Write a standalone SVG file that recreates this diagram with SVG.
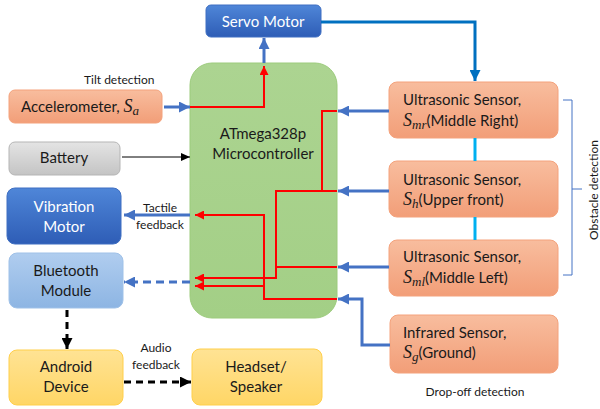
<svg xmlns="http://www.w3.org/2000/svg" width="600" height="409" viewBox="0 0 600 409">
<defs>
<linearGradient id="gOrange" x1="0" y1="0" x2="0" y2="1"><stop offset="0" stop-color="#f8bd9e"/><stop offset="1" stop-color="#f29e78"/></linearGradient>
<linearGradient id="gBlue" x1="0" y1="0" x2="0" y2="1"><stop offset="0" stop-color="#4f86d8"/><stop offset="1" stop-color="#2e5db6"/></linearGradient>
<linearGradient id="gGray" x1="0" y1="0" x2="0" y2="1"><stop offset="0" stop-color="#e4e4e4"/><stop offset="1" stop-color="#c4c4c4"/></linearGradient>
<linearGradient id="gLBlue" x1="0" y1="0" x2="0" y2="1"><stop offset="0" stop-color="#b0cdef"/><stop offset="1" stop-color="#8db5e3"/></linearGradient>
<linearGradient id="gYellow" x1="0" y1="0" x2="0" y2="1"><stop offset="0" stop-color="#ffe394"/><stop offset="1" stop-color="#ffd666"/></linearGradient>
<linearGradient id="gGreen" x1="0" y1="0" x2="0" y2="1"><stop offset="0" stop-color="#acd491"/><stop offset="1" stop-color="#a3cf86"/></linearGradient>
<marker id="aBlue" markerUnits="userSpaceOnUse" markerWidth="11" markerHeight="11" refX="11" refY="5.5" orient="auto"><path d="M0,0 L11,5.5 L0,11 z" fill="#4472c4"/></marker>
<marker id="aDBlue" markerUnits="userSpaceOnUse" markerWidth="11" markerHeight="11" refX="11" refY="5.5" orient="auto"><path d="M0,0 L11,5.5 L0,11 z" fill="#0070c0"/></marker>
<marker id="aRed" markerUnits="userSpaceOnUse" markerWidth="9" markerHeight="9" refX="9" refY="4.5" orient="auto"><path d="M0,0 L9,4.5 L0,9 z" fill="#ff0000"/></marker>
<marker id="aBlack" markerUnits="userSpaceOnUse" markerWidth="9" markerHeight="8" refX="9" refY="4" orient="auto"><path d="M0,0 L9,4 L0,8 z" fill="#000"/></marker>
<marker id="aBlackB" markerUnits="userSpaceOnUse" markerWidth="11" markerHeight="11" refX="11" refY="5.5" orient="auto"><path d="M0,0 L11,5.5 L0,11 z" fill="#000"/></marker>
</defs>
<style>
text{font-family:Lato,"Open Sans","Liberation Sans",sans-serif;fill:#1a1a1a}
.lbl{font-size:15px}
.sm{font-size:12px}
.w{fill:#fff}
.c{text-anchor:middle}
.m{font-family:"Liberation Serif",serif;font-style:italic;font-size:18px}
.sub{font-size:13px}
.orange{fill:url(#gOrange);stroke:#f4a27c;stroke-width:1}
.blue{fill:url(#gBlue);stroke:#3f6fc2;stroke-width:1}
.gray{fill:url(#gGray);stroke:#b5b5b5;stroke-width:1}
.lblue{fill:url(#gLBlue);stroke:#9fc1e8;stroke-width:1}
.yellow{fill:url(#gYellow);stroke:#ffcf4a;stroke-width:1}
.green{fill:url(#gGreen);stroke:#9ccb7c;stroke-width:1}
.bl{fill:none;stroke:#4472c4;stroke-width:3}
.rd{fill:none;stroke:#ff0000;stroke-width:2}
</style>

<g id="microcontroller">
<rect class="green" x="190" y="63" width="147" height="255" rx="22"/>
<text class="lbl c" x="263" y="139">ATmega328p</text>
<text class="lbl c" x="263" y="159">Microcontroller</text>
</g>

<g id="servo">
<rect class="blue" x="206" y="5" width="115" height="32" rx="5"/>
<text class="lbl c w" x="263" y="27">Servo Motor</text>
</g>

<g id="accelerometer">
<rect class="orange" x="9" y="90" width="153" height="33" rx="6"/>
<text class="lbl" x="21" y="112">Accelerometer, <tspan class="m">S</tspan><tspan class="m sub" dy="3">a</tspan></text>
<text class="sm" x="84" y="84">Tilt detection</text>
</g>

<g id="battery">
<rect class="gray" x="9" y="142" width="111" height="33" rx="6"/>
<text class="lbl c" x="64" y="163">Battery</text>
</g>

<g id="vibration">
<rect class="blue" x="7" y="188" width="114" height="56" rx="8"/>
<text class="lbl c w" x="64" y="212">Vibration</text>
<text class="lbl c w" x="64" y="232">Motor</text>
</g>

<g id="bluetooth">
<rect class="lblue" x="9" y="253" width="114" height="55" rx="8"/>
<text class="lbl c" x="66" y="276">Bluetooth</text>
<text class="lbl c" x="66" y="296">Module</text>
</g>

<g id="android">
<rect class="yellow" x="9" y="350" width="114" height="55" rx="8"/>
<text class="lbl c" x="66" y="372">Android</text>
<text class="lbl c" x="66" y="392">Device</text>
</g>

<g id="headset">
<rect class="yellow" x="192" y="349" width="130" height="56" rx="8"/>
<text class="lbl c" x="256" y="372">Headset/</text>
<text class="lbl c" x="256" y="392">Speaker</text>
</g>

<g id="us-middle-right">
<rect class="orange" x="389" y="82" width="169" height="56" rx="8"/>
<text class="lbl" x="403" y="105">Ultrasonic Sensor,</text>
<text class="lbl" x="403" y="126"><tspan class="m">S</tspan><tspan class="m sub" dy="3">mr</tspan><tspan dy="-3">(Middle Right)</tspan></text>
</g>

<g id="us-upper-front">
<rect class="orange" x="389" y="161" width="169" height="56" rx="8"/>
<text class="lbl" x="403" y="185">Ultrasonic Sensor,</text>
<text class="lbl" x="403" y="205"><tspan class="m">S</tspan><tspan class="m sub" dy="3">h</tspan><tspan dy="-3">(Upper front)</tspan></text>
</g>

<g id="us-middle-left">
<rect class="orange" x="389" y="240" width="169" height="56" rx="8"/>
<text class="lbl" x="403" y="262">Ultrasonic Sensor,</text>
<text class="lbl" x="403" y="283"><tspan class="m">S</tspan><tspan class="m sub" dy="3">ml</tspan><tspan dy="-3">(Middle Left)</tspan></text>
</g>

<g id="infrared">
<rect class="orange" x="390" y="315" width="168" height="58" rx="8"/>
<text class="lbl" x="403" y="338">Infrared Sensor,</text>
<text class="lbl" x="403" y="358"><tspan class="m">S</tspan><tspan class="m sub" dy="3">g</tspan><tspan dy="-3">(Ground)</tspan></text>
</g>

<g id="labels">
<text class="sm c" x="160" y="212">Tactile</text>
<text class="sm c" x="160" y="229">feedback</text>
<text class="sm c" x="156" y="352">Audio</text>
<text class="sm c" x="156" y="369">feedback</text>
<text class="sm c" x="475" y="396">Drop-off detection</text>
<text class="sm c" transform="translate(598,190) rotate(-90)">Obstacle detection</text>
</g>

<g id="connectors">
<line class="bl" x1="164" y1="107" x2="190" y2="107" marker-end="url(#aBlue)"/>
<line x1="122" y1="157" x2="190" y2="157" stroke="#000" stroke-width="1" marker-end="url(#aBlack)"/>
<line class="bl" x1="264" y1="63" x2="264" y2="38" marker-end="url(#aBlue)"/>
<path d="M321,22 H475 V81" fill="none" stroke="#0070c0" stroke-width="3" marker-end="url(#aDBlue)"/>
<line class="bl" x1="389" y1="111" x2="338" y2="111" marker-end="url(#aBlue)"/>
<line class="bl" x1="389" y1="191" x2="338" y2="191" marker-end="url(#aBlue)"/>
<line class="bl" x1="389" y1="267" x2="338" y2="267" marker-end="url(#aBlue)"/>
<path class="bl" d="M390,345 H362 V299 H338" marker-end="url(#aBlue)"/>
<line x1="475" y1="138" x2="475" y2="161" stroke="#00b0f0" stroke-width="3"/>
<line x1="475" y1="217" x2="475" y2="240" stroke="#00b0f0" stroke-width="3"/>
<line class="bl" x1="190" y1="215" x2="124" y2="215" marker-end="url(#aBlue)"/>
<line class="bl" x1="190" y1="282" x2="124" y2="282" stroke-dasharray="8 5" marker-end="url(#aBlue)"/>
<line x1="67" y1="310" x2="67" y2="349" stroke="#000" stroke-width="3" stroke-dasharray="7 5" marker-end="url(#aBlackB)"/>
<line x1="124" y1="382" x2="191" y2="382" stroke="#000" stroke-width="3" stroke-dasharray="7 5" marker-end="url(#aBlackB)"/>
<path class="rd" d="M190,107 H264 V66" marker-end="url(#aRed)"/>
<path class="rd" d="M337,111 H322 V191"/>
<path class="rd" d="M337,191 H276 V278 H195" marker-end="url(#aRed)"/>
<path class="rd" d="M337,267 H276"/>
<path class="rd" d="M337,299 H264 V215 H195" marker-end="url(#aRed)"/>
<path class="rd" d="M264,286 H195" marker-end="url(#aRed)"/>
<path d="M563,100 H572 V275 H563 M572,189 H582" fill="none" stroke="#4472c4" stroke-width="1"/>
</g>
</svg>
